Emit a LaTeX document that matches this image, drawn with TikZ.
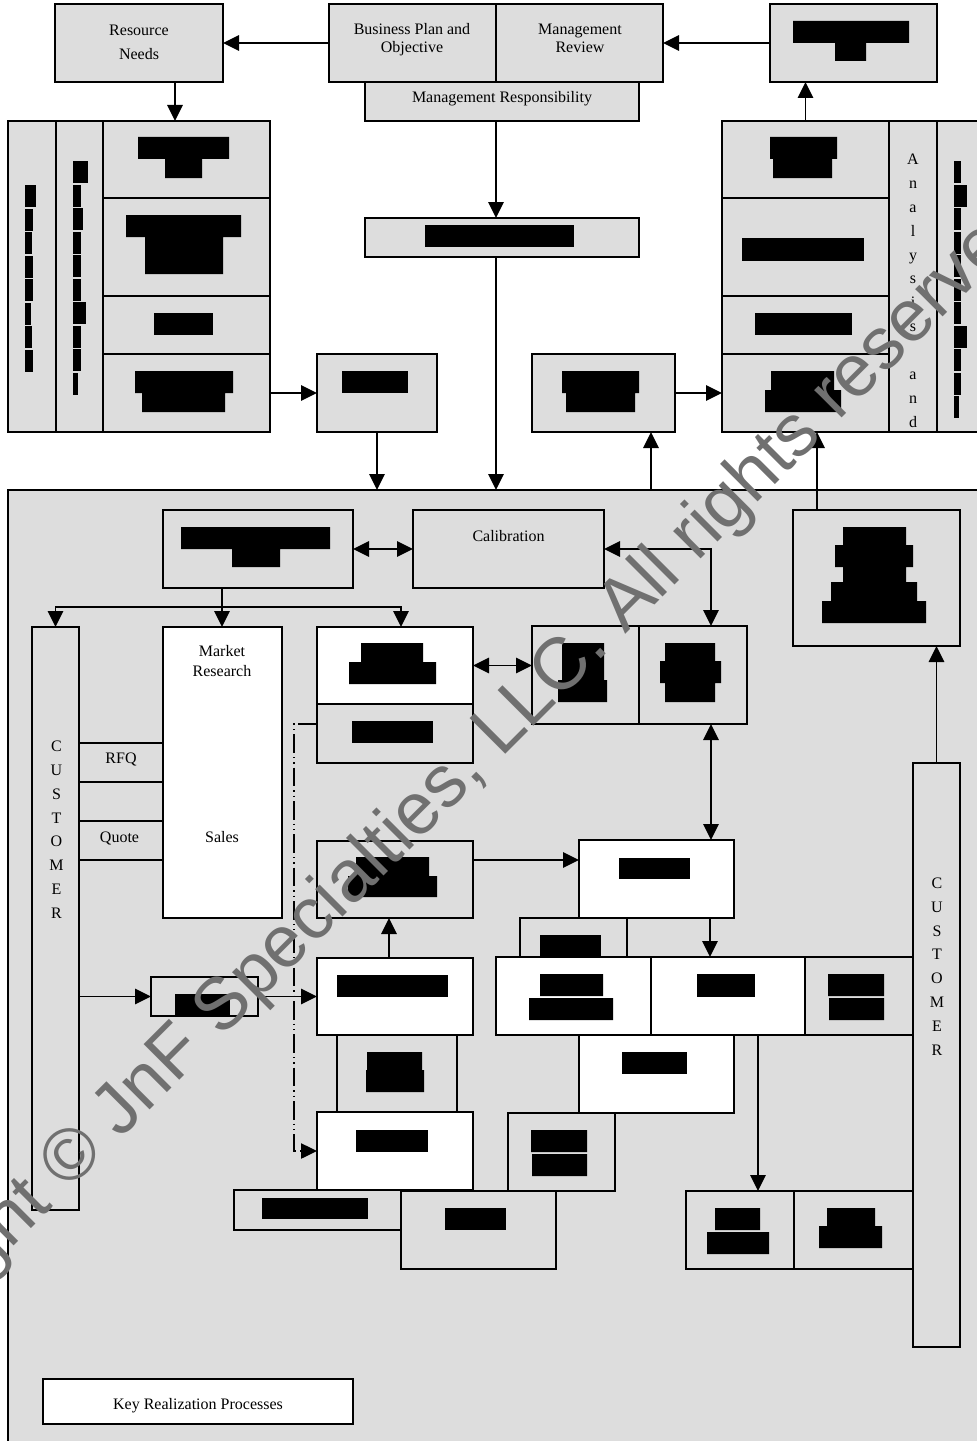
\documentclass[tikz,border=0pt]{standalone}
\usepackage{fontspec}
\setmainfont{Liberation Serif}
\newfontfamily\markfont{Liberation Sans}
\usetikzlibrary{arrows.meta, positioning, fit, calc}
\definecolor{boxgray}{RGB}{221,221,221}
\definecolor{markgray}{RGB}{112,112,112}
\tikzset{
  box/.style={draw, line width=1.4pt, fill=boxgray, inner sep=0pt, outer sep=0pt},
  wbox/.style={box, fill=white},
  redact/.style={fill=black},
  lbl/.style={inner sep=0pt, align=center, font=\fontsize{12}{13.5}\selectfont},
  arr/.style={line width=1.4pt, -{Triangle[length=12pt,width=11.5pt]}},
  darr/.style={line width=1.4pt, {Triangle[length=12pt,width=11.5pt]}-{Triangle[length=12pt,width=11.5pt]}},
  dashdot/.style={line width=1pt, dash pattern=on 14pt off 3pt on 1pt off 3pt on 1pt off 3pt},
}

\begin{document}
\begin{tikzpicture}[x=0.75pt, y=-0.75pt]
  \useasboundingbox (0,0) rectangle (976,1441);

  % ===== planning row =====
  \node[box, fit={(55,4) (223,82)}] (res) {};
  \node[lbl, font=\fontsize{12}{18}\selectfont] (restxt) at (139,42) {Resource\\Needs};
  \node[box, fit={(329,4) (496,82)}] (bpo) {};
  \node[lbl] (bpotxt) at (412,40) {Business Plan and\\Objective};
  \node[box, fit={(496,4) (663,82)}] (mrv) {};
  \node[lbl] (mrvtxt) at (580,38.5) {Management\\Review};
  \node[box, fit={(365,82) (639,121)}] (mresp) {};
  \node[lbl] (mresptxt) at (502,99) {Management Responsibility};
  \node[box, fit={(770,4) (937,82)}] (tr) {};
  \fill[redact] (793,21) rectangle (909,43) (835,43) rectangle (866,61);

  % ===== resource block (left) =====
  \node[box, fit={(8,121) (56,432)}] (lc1) {};
  \node[box, fit={(56,121) (103,432)}] (lc2) {};
  \node[box, fit={(103,121) (270,198)}] (lr1) {};
  \node[box, fit={(103,198) (270,296)}] (lr2) {};
  \node[box, fit={(103,296) (270,354)}] (lr3) {};
  \node[box, fit={(103,354) (270,432)}] (lr4) {};
  \fill[redact] (138,137) rectangle (229,159) (165,159) rectangle (202,178);
  \fill[redact] (126,215) rectangle (241,237) (145,237) rectangle (223,274);
  \fill[redact] (154,313) rectangle (213,335);
  \fill[redact] (135,371) rectangle (233,393) (142,393) rectangle (225,412);
  % vertical text, blacked out
  \foreach \w [count=\i from 0] in {11,8,7,8,8,6,7,8}
    \fill[redact] (25,{185+23.5*\i}) rectangle ++(\w,22);
  \foreach \w [count=\i from 0] in {15,8,10,8,8,8,13,8,8,5}
    \fill[redact] (73,{161+23.5*\i}) rectangle ++(\w,22);

  \node[box, fit={(317,354) (437,432)}] (b1) {};
  \fill[redact] (342,371) rectangle (408,393);
  \node[box, fit={(365,218) (639,257)}] (c2) {};
  \fill[redact] (425,225) rectangle (574,247);
  \node[box, fit={(532,354) (675,432)}] (b2) {};
  \fill[redact] (562,371) rectangle (639,393) (566,393) rectangle (635,412);

  % ===== measurement block (right) =====
  \node[box, fit={(722,121) (889,198)}] (rr1) {};
  \node[box, fit={(722,198) (889,296)}] (rr2) {};
  \node[box, fit={(722,296) (889,354)}] (rr3) {};
  \node[box, fit={(722,354) (889,432)}] (rr4) {};
  \node[box, fit={(889,121) (937,432)}] (rc1) {};
  \node[lbl, font=\fontsize{12}{17.9}\selectfont] (anatxt) at (913,290.6) {A\\n\\a\\l\\y\\s\\i\\s\\ \\a\\n\\d};
  \node[box, fit={(937,121) (995,432)}] (rc2) {};
  \fill[redact] (770,137) rectangle (837,159) (773,159) rectangle (832,178);
  \fill[redact] (742,238) rectangle (864,261);
  \fill[redact] (755,313) rectangle (852,335);
  \fill[redact] (771,371) rectangle (834,390) (765,390) rectangle (841,412);
  \foreach \w [count=\i from 0] in {7,13,7,7,7,7,7,13,7,7,5}
    \fill[redact] (954,{161+23.5*\i}) rectangle ++(\w,22);

  % ===== realization area =====
  \node[box, fit={(8,490) (995,1460)}] (area) {};

  \node[box, fit={(163,510) (353,588)}] (k1) {};
  \fill[redact] (181,527) rectangle (330,549) (232,549) rectangle (280,567);
  \node[box, fit={(413,510) (604,588)}] (cal) {};
  \node[lbl] (caltxt) at (508.5,536.5) {Calibration};
  \node[box, fit={(793,510) (960,646)}] (ru) {};
  \fill[redact] (843,527) rectangle (906,545) (835,545) rectangle (913,567)
                (843,567) rectangle (906,582) (831,582) rectangle (917,601)
                (822,601) rectangle (926,623);

  \node[box, fit={(32,627) (79,1210)}] (cust) {};
  \node[lbl, font=\fontsize{12}{17.8}\selectfont] (custtxt) at (56.5,829.7) {C\\U\\S\\T\\O\\M\\E\\R};
  \node[wbox, fit={(163,627) (282,918)}] (mkt) {};
  \node[lbl, font=\fontsize{12}{15}\selectfont] (mkttxt) at (222,661.5) {Market\\Research};
  \node[lbl] (salestxt) at (222,837.5) {Sales};
  \node[box, fit={(79,743) (163,782)}] (rfq) {};
  \node[lbl] (rfqtxt) at (121,759) {RFQ};
  \node[box, fit={(79,782) (163,821)}] (gap) {};
  \node[box, fit={(79,821) (163,860)}] (quo) {};
  \node[lbl] (quotxt) at (119.5,838.5) {Quote};

  \node[wbox, fit={(317,627) (473,704)}] (w1) {};
  \fill[redact] (361,643) rectangle (423,662) (349,662) rectangle (436,684);
  \node[box, fit={(317,704) (473,763)}] (g1) {};
  \fill[redact] (352,721) rectangle (433,743);
  \node[box, fit={(532,626) (639,724)}] (p1) {};
  \fill[redact] (562,643) rectangle (604,680) (558,680) rectangle (607,702);
  \node[box, fit={(639,626) (747,724)}] (p2) {};
  \fill[redact] (665,643) rectangle (715,702) (660,661) rectangle (721,683);

  \node[box, fit={(317,841) (473,918)}] (g2) {};
  \fill[redact] (356,857) rectangle (429,876) (348,876) rectangle (437,897);
  \node[wbox, fit={(579,840) (734,918)}] (w2) {};
  \fill[redact] (619,858) rectangle (690,879);
  \node[box, fit={(520,918) (627,957)}] (g3) {};
  \fill[redact] (540,935) rectangle (601,957);
  \node[wbox, fit={(496,957) (651,1035)}] (w3a) {};
  \fill[redact] (540,974) rectangle (603,996) (529,998) rectangle (613,1020);
  \node[wbox, fit={(651,957) (805,1035)}] (w3b) {};
  \fill[redact] (697,974) rectangle (755,997);
  \node[box, fit={(805,957) (913,1035)}] (g3c) {};
  \fill[redact] (828,974) rectangle (884,996) (829,998) rectangle (884,1020);
  \node[wbox, fit={(579,1035) (734,1113)}] (w4) {};
  \fill[redact] (622,1052) rectangle (687,1074);
  \node[box, fit={(508,1113) (615,1191)}] (g4) {};
  \fill[redact] (531,1130) rectangle (587,1152) (532,1154) rectangle (587,1176);
  \node[box, fit={(686,1191) (794,1269)}] (br1) {};
  \fill[redact] (715,1208) rectangle (760,1230) (707,1232) rectangle (769,1254);
  \node[box, fit={(794,1191) (913,1269)}] (br2) {};
  \fill[redact] (827,1208) rectangle (875,1226) (819,1226) rectangle (882,1248);

  \node[box, fit={(913,763) (960,1347)}] (custr) {};
  \node[lbl, font=\fontsize{12}{17.9}\selectfont] (custrtxt) at (937,966.5) {C\\U\\S\\T\\O\\M\\E\\R};

  \node[box, fit={(151,977) (258,1016)}] (sm) {};
  \fill[redact] (175,994) rectangle (230,1016);
  \node[wbox, fit={(317,958) (473,1035)}] (w5) {};
  \fill[redact] (337,975) rectangle (448,997);
  \node[box, fit={(337,1035) (457,1112)}] (g5) {};
  \fill[redact] (367,1052) rectangle (422,1070) (366,1070) rectangle (424,1092);
  \node[wbox, fit={(317,1112) (473,1190)}] (w6) {};
  \fill[redact] (356,1130) rectangle (428,1152);
  \node[box, fit={(234,1190) (401,1230)}] (g6) {};
  \fill[redact] (262,1198) rectangle (368,1219);
  \node[box, fit={(401,1191) (556,1269)}] (g7) {};
  \fill[redact] (445,1208) rectangle (506,1230);

  \node[wbox, fit={(43,1379) (353,1424)}] (key) {};
  \node[lbl] (keytxt) at (198,1406) {Key Realization Processes};

  % ===== connectors =====
  \draw[arr] (bpo.west) -- (res.east);
  \draw[arr] (tr.west) -- (mrv.east);
  \draw[arr] (175,0 |- res.south) -- (175,0 |- lr1.north);
  \draw[arr] (lr4.east) -- (b1.west);
  \draw[arr] (b1.south) -- (b1.south |- area.north);
  \draw[arr] (496,0 |- mresp.south) -- (496,0 |- c2.north);
  \draw[arr] (496,0 |- c2.south) -- (496,0 |- area.north);
  \draw[arr] (b2.east) -- (rr4.west);
  \draw[arr] (651,0 |- area.north) -- (651,0 |- b2.south);
  \draw[arr] (rr1.north) -- (rr1.north |- tr.south);
  \draw[arr] (817,0 |- ru.north) -- (817,0 |- rr4.south);

  \draw[darr] (k1.east) -- (cal.west);
  \coordinate (split) at (222,607);
  \draw[line width=1.4pt] (split |- k1.south) -- (split);
  \draw[arr] (split) -- (split |- mkt.north);
  \draw[arr] (split) -| (cust.north);
  \draw[arr] (split) -| (401,0 |- w1.north);
  \draw[darr] (cal.east) -| (711,0 |- p2.north);
  \draw[darr] (w1.east) -- (w1.east -| p1.west);
  \draw[darr] (711,0 |- p2.south) -- (711,0 |- w2.north);
  \draw[arr] (g2.east |- 0,860) -- (w2.west |- 0,860);
  \draw[arr] (710,0 |- w2.south) -- (710,0 |- w3b.north);
  \draw[arr] (758,0 |- w3b.south) -- (758,0 |- br1.north);
  \draw[arr] (custr.north) -- (custr.north |- ru.south);
  \draw[arr] (cust.east |- sm.west) -- (sm.west);
  \draw[arr] (sm.east) -- (w5.west);
  \draw[arr] (389,0 |- w5.north) -- (389,0 |- g2.south);
  \draw[arr, dashdot] (g1.west |- 0,724) -| (294,0 |- w6.west) -- (w6.west);

  % watermark
  \node[rotate=45, anchor=base, text=markgray, inner sep=0pt,
        font=\markfont\fontsize{55}{60}\selectfont] (wmark) at (436,824)
        {Copyright © JnF Specialties, LLC. All rights reserved};
\end{tikzpicture}
\end{document}
